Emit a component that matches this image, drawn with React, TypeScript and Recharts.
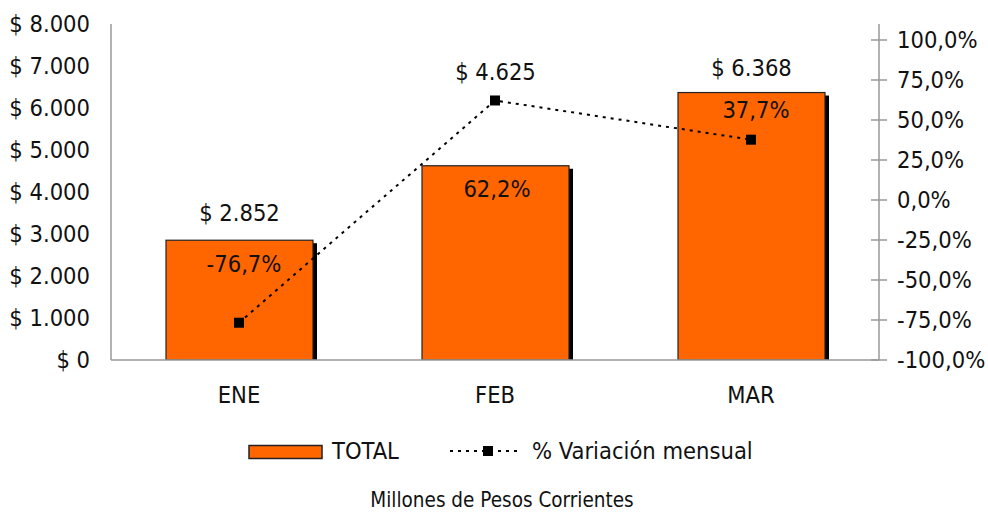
import React from 'react';
import {
  ComposedChart,
  Bar,
  Line,
  XAxis,
  YAxis,
  Legend,
  LabelList,
} from 'recharts';

const categories = ['ENE', 'FEB', 'MAR'];
const totals = [2852, 4625, 6368];
const variations = [-76.7, 62.2, 37.7];
const leftTicks = [0, 1000, 2000, 3000, 4000, 5000, 6000, 7000, 8000];
const rightTicks = [-100, -75, -50, -25, 0, 25, 50, 75, 100];
const seriesNames = ['TOTAL', '% Variación mensual'];
const chartTitle = 'Millones de Pesos Corrientes';

const data = categories.map((c, i) => ({ cat: c, total: totals[i], pct: variations[i] }));

const FONT = '"DejaVu Sans Condensed", "DejaVu Sans", sans-serif';
const TEXT = '#111';
const ORANGE = '#FF6600';
const AXIS = '#999';
const FS = 23.5;

// label placement (style): bar labels dy from bar top; line labels [dx, dy] from point
const BAR_LABEL_DY = [-27, -94, -25];
const LINE_LABEL_OFF = [
  [5, -59],
  [2, 89],
  [5, -30],
];

const fmtMoney = (v: number) =>
  '$ ' + Math.round(v).toString().replace(/\B(?=(\d{3})+(?!\d))/g, '.');
const fmtPct = (v: number) => v.toFixed(1).replace('.', ',') + '%';

const BarShape = (props: any) => {
  const { x, y, width, height } = props;
  if (height <= 0) return null;
  return (
    <g>
      <rect x={x + 4} y={y + 3} width={width} height={height - 3} fill="#000" />
      <rect x={x} y={y} width={width} height={height} fill={ORANGE} stroke="#222" strokeWidth={1.2} />
    </g>
  );
};

const SquareDot = (props: any) => {
  const { cx, cy } = props;
  if (cx == null || cy == null) return null;
  return <rect x={cx - 5} y={cy - 5} width={10} height={10} fill="#000" />;
};

const BarLabel = (props: any) => {
  const { x, y, width, index, value } = props;
  return (
    <text
      x={x + width / 2}
      y={y + BAR_LABEL_DY[index]}
      textAnchor="middle"
      dominantBaseline="central"
      fontFamily={FONT}
      fontSize={FS}
      fill={TEXT}
    >
      {fmtMoney(value)}
    </text>
  );
};

const LineLabel = (props: any) => {
  const { x, y, index, value } = props;
  const [dx, dy] = LINE_LABEL_OFF[index];
  return (
    <text
      x={x + dx}
      y={y + dy}
      textAnchor="middle"
      dominantBaseline="central"
      fontFamily={FONT}
      fontSize={FS}
      fill={TEXT}
    >
      {fmtPct(value)}
    </text>
  );
};

const LeftTick = (props: any) => {
  const { x, y, payload } = props;
  return (
    <text x={x} y={y} textAnchor="end" dominantBaseline="central" fontFamily={FONT} fontSize={FS} fill={TEXT}>
      {fmtMoney(payload.value)}
    </text>
  );
};

const RightTick = (props: any) => {
  const { x, y, payload } = props;
  return (
    <g>
      <line x1={x - 26} x2={x - 10} y1={y} y2={y} stroke={AXIS} strokeWidth={1.5} />
      <text x={x} y={y} textAnchor="start" dominantBaseline="central" fontFamily={FONT} fontSize={FS} fill={TEXT}>
        {fmtPct(payload.value)}
      </text>
    </g>
  );
};

const XTick = (props: any) => {
  const { x, y, payload } = props;
  return (
    <text x={x} y={y + 27} textAnchor="middle" dominantBaseline="central" fontFamily={FONT} fontSize={FS} fill={TEXT}>
      {payload.value}
    </text>
  );
};

const LegendContent = () => (
  <div style={{ position: 'relative', width: 988, height: 92, fontFamily: FONT, color: TEXT }}>
    <svg style={{ position: 'absolute', left: 248, top: 24 }} width={76} height={16}>
      <rect x={1} y={1.5} width={73} height={13} fill={ORANGE} stroke="#222" strokeWidth={1.5} />
    </svg>
    <div style={{ position: 'absolute', left: 332, top: 16, fontSize: FS, lineHeight: '30px' }}>{seriesNames[0]}</div>
    <svg style={{ position: 'absolute', left: 450, top: 21 }} width={72} height={20}>
      <line x1={0} x2={72} y1={10} y2={10} stroke="#000" strokeWidth={2} strokeDasharray="3 5" />
      <rect x={33} y={5} width={10} height={10} fill="#000" />
    </svg>
    <div style={{ position: 'absolute', left: 532, top: 16, fontSize: FS, lineHeight: '30px' }}>{seriesNames[1]}</div>
    <div
      style={{
        position: 'absolute',
        left: 0,
        width: 1004,
        top: 70,
        textAlign: 'center',
        fontSize: 20.5,
        lineHeight: '21px',
      }}
    >
      {chartTitle}
    </div>
  </div>
);

export default function App() {
  return (
    <div style={{ position: 'absolute', left: 0, top: 0, width: 988, height: 512, background: '#fff' }}>
      <style>{'body{margin:0;}'}</style>
      <ComposedChart width={988} height={512} data={data} margin={{ top: 24, right: 0, left: 0, bottom: 0 }}>
        <XAxis
          dataKey="cat"
          height={60}
          tickLine={false}
          axisLine={{ stroke: AXIS, strokeWidth: 1.5 }}
          tick={<XTick />}
          interval={0}
        />
        <YAxis
          yAxisId="left"
          orientation="left"
          width={111}
          domain={[0, 8000]}
          ticks={leftTicks}
          tickLine={false}
          tickSize={0}
          tickMargin={21}
          axisLine={{ stroke: AXIS, strokeWidth: 1.5 }}
          tick={<LeftTick />}
          interval={0}
          allowDataOverflow
        />
        <YAxis
          yAxisId="right"
          orientation="right"
          width={109}
          domain={[-100, 110]}
          ticks={rightTicks}
          tickLine={false}
          tickSize={8}
          tickMargin={10}
          axisLine={{ stroke: AXIS, strokeWidth: 1.5 }}
          tick={<RightTick />}
          interval={0}
          allowDataOverflow
        />
        <Legend verticalAlign="bottom" height={92} content={<LegendContent />} />
        <Bar yAxisId="left" dataKey="total" name={seriesNames[0]} barSize={147} shape={<BarShape />} isAnimationActive={false}>
          <LabelList dataKey="total" content={<BarLabel />} />
        </Bar>
        <Line
          yAxisId="right"
          dataKey="pct"
          name={seriesNames[1]}
          type="linear"
          stroke="#000"
          strokeWidth={2}
          strokeDasharray="3 5"
          dot={<SquareDot />}
          activeDot={false}
          isAnimationActive={false}
        >
          <LabelList dataKey="pct" content={<LineLabel />} />
        </Line>
      </ComposedChart>
    </div>
  );
}
